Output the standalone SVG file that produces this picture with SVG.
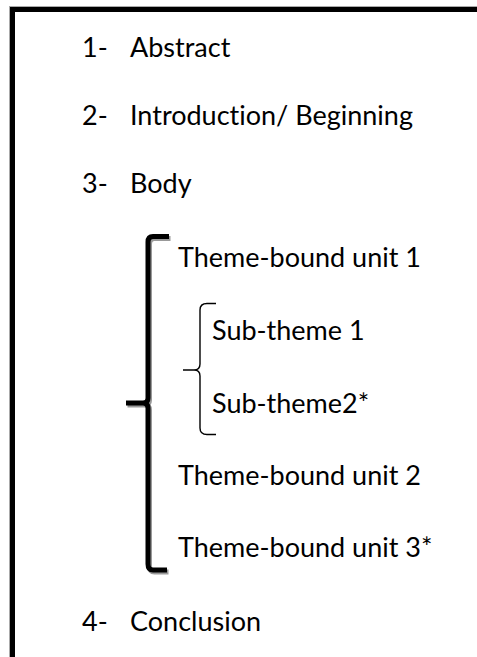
<svg xmlns="http://www.w3.org/2000/svg" width="477" height="657" viewBox="0 0 477 657">
<style>
text{font-family:Lato,"Open Sans","Liberation Sans",sans-serif;font-size:27px;fill:#000;font-variant-ligatures:none}
.big{fill:none;stroke:#000;stroke-width:5;stroke-linecap:butt}
.bigs{fill:none;stroke:#999;stroke-width:5}
.small{fill:none;stroke:#000;stroke-width:1.4}
</style>
<rect width="477" height="657" fill="#fff"/>
<g id="frame">
<rect x="9.5" y="6.5" width="520" height="700" fill="none" stroke="#aaa" stroke-width="1"/>
<rect x="12.5" y="9.5" width="520" height="700" fill="none" stroke="#000" stroke-width="5"/>
</g>
<g id="item1"><text x="82" y="57">1-</text><text x="130" y="57">Abstract</text></g>
<g id="item2"><text x="82" y="125">2-</text><text x="130" y="125">Introduction/ Beginning</text></g>
<g id="item3"><text x="82" y="193">3-</text><text x="130" y="193">Body</text></g>
<g id="theme1"><text x="178" y="267">Theme-bound unit 1</text></g>
<g id="sub1"><text x="212" y="340">Sub-theme 1</text></g>
<g id="sub2"><text x="212" y="413">Sub-theme2*</text></g>
<g id="theme2"><text x="178" y="485">Theme-bound unit 2</text></g>
<g id="theme3"><text x="178" y="557">Theme-bound unit 3*</text></g>
<g id="item4"><text x="82" y="631">4-</text><text x="130" y="631">Conclusion</text></g>
<g id="connectors">
<path class="bigs" transform="translate(1.5,2)" d="M169,236.5 L153,236.5 Q148,236.5 148,242 L148,398 Q148,403 143,403 L126,403 M143,403 Q148,403 148,408 L148,564 Q148,570 153,570 L167,570"/>
<path class="big" d="M169,236.5 L153,236.5 Q148,236.5 148,242 L148,398 Q148,403 143,403 L126,403 M143,403 Q148,403 148,408 L148,564 Q148,570 153,570 L167,570"/>
<path class="small" d="M216,303.5 L207,303.5 Q200,303.5 200,310 L200,364 Q200,370 194,370 L183,370 M194,370 Q200,370 200,376 L200,428 Q200,434.5 207,434.5 L216,434.5"/>
</g>
</svg>
